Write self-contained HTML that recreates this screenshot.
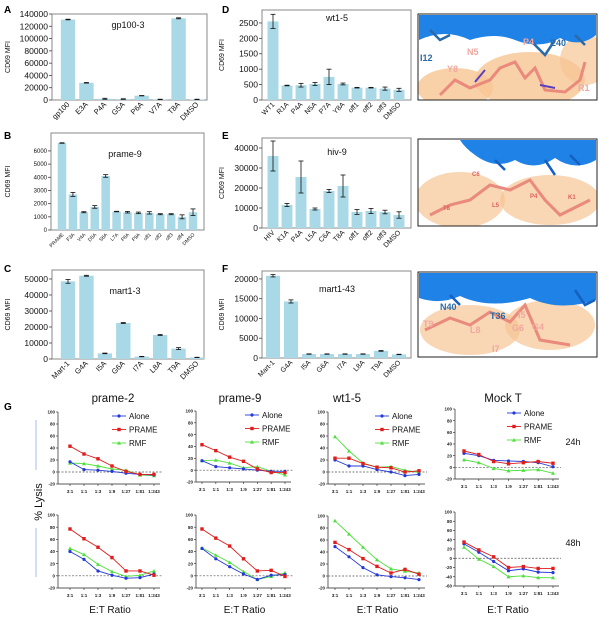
<!DOCTYPE html>
<html><head><meta charset="utf-8"><style>
html,body{margin:0;padding:0;background:#fff}
svg{display:block;font-family:"Liberation Sans",Arial,sans-serif}
</style></head><body>
<svg id="fig" width="600" height="620" viewBox="0 0 600 620" xmlns="http://www.w3.org/2000/svg">
<defs>
  <clipPath id="clipD"><rect x="418" y="14" width="179" height="86"/></clipPath>
  <clipPath id="clipE"><rect x="418" y="139" width="179" height="87"/></clipPath>
  <clipPath id="clipF"><rect x="418" y="272" width="179" height="85"/></clipPath>
</defs>
<g id="bars"></g>
<g id="structs">
  <g>
    <g clip-path="url(#clipD)">
    <rect x="418" y="14" width="179" height="86" fill="#fff"/>
    <ellipse cx="455" cy="88" rx="38" ry="20" fill="#f7c594" opacity="0.8"/>
    <ellipse cx="530" cy="80" rx="55" ry="28" fill="#f7c594" opacity="0.8"/>
    <ellipse cx="585" cy="60" rx="25" ry="25" fill="#f7c594" opacity="0.7"/>
    <path d="M419,15 L596,15 L596,35 Q580,48 560,38 Q540,50 515,40 Q495,32 470,40 Q445,28 419,40 Z" fill="#1f82e6"/>
    <path d="M430,30 L440,40 L450,35 M530,40 L545,55 L555,40 M575,35 L585,45" fill="none" stroke="#2a6aa8" stroke-width="2.5"/>
    <path d="M440,95 L455,80 L470,88 L490,80 L500,68 L515,62 L525,78 L535,68 L545,90 L565,92 L580,80 L585,62" fill="none" stroke="#e98a7c" stroke-width="3"/>
    <path d="M475,82 L485,70 M540,85 L555,88" fill="none" stroke="#5a3fbf" stroke-width="2"/>
    </g>
    <rect x="418" y="14" width="179" height="86" fill="none" stroke="#222" stroke-width="1"/>
    <text x="420" y="61" font-size="9" font-weight="bold" fill="#2a6aa8">I12</text>
    <text x="447" y="72" font-size="9" font-weight="bold" fill="#f0a8a0">Y8</text>
    <text x="467" y="55" font-size="9" font-weight="bold" fill="#f0a8a0">N5</text>
    <text x="523" y="45" font-size="9" font-weight="bold" fill="#f0a8a0">P4</text>
    <text x="550" y="46" font-size="9" font-weight="bold" fill="#2a6aa8">E40</text>
    <text x="578" y="91" font-size="9" font-weight="bold" fill="#f0a8a0">R1</text>
  </g>
  <g>
    <g clip-path="url(#clipE)">
    <rect x="418" y="139" width="179" height="87" fill="#fff"/>
    <ellipse cx="460" cy="200" rx="45" ry="28" fill="#f7c594" opacity="0.7"/>
    <ellipse cx="550" cy="200" rx="50" ry="25" fill="#f7c594" opacity="0.7"/>
    <path d="M460,140 L596,140 L596,160 Q575,172 555,158 Q535,172 515,160 Q495,170 475,155 Q465,148 460,140 Z" fill="#1f82e6"/>
    <path d="M495,160 L505,170 M545,160 L555,175 M570,155 L580,165" fill="none" stroke="#1560c0" stroke-width="2.5"/>
    <path d="M430,215 L450,205 L470,200 L490,185 L510,190 L530,180 L545,200 L560,215 L590,200" fill="none" stroke="#e98a7c" stroke-width="3"/>
    </g>
    <rect x="418" y="139" width="179" height="87" fill="none" stroke="#222" stroke-width="1"/>
    <text x="472" y="176" font-size="6" font-weight="bold" fill="#e0605a">C6</text>
    <text x="443" y="210" font-size="6" font-weight="bold" fill="#e0605a">T8</text>
    <text x="492" y="207" font-size="6" font-weight="bold" fill="#e0605a">L5</text>
    <text x="530" y="198" font-size="6" font-weight="bold" fill="#e0605a">P4</text>
    <text x="568" y="199" font-size="6" font-weight="bold" fill="#e0605a">K1</text>
  </g>
  <g>
    <g clip-path="url(#clipF)">
    <rect x="418" y="272" width="179" height="85" fill="#fff"/>
    <ellipse cx="470" cy="330" rx="50" ry="25" fill="#f7c594" opacity="0.7"/>
    <ellipse cx="550" cy="325" rx="45" ry="25" fill="#f7c594" opacity="0.7"/>
    <path d="M419,273 L596,273 L596,300 Q560,312 530,298 Q490,310 460,296 Q440,305 419,298 Z" fill="#1f82e6"/>
    <path d="M575,290 L585,305 L595,300 M450,295 L460,305" fill="none" stroke="#1560c0" stroke-width="2.5"/>
    <path d="M425,330 L450,318 L470,325 L490,312 L510,322 L525,305 L540,340 L570,345" fill="none" stroke="#e98a7c" stroke-width="3"/>
    </g>
    <rect x="418" y="272" width="179" height="85" fill="none" stroke="#222" stroke-width="1"/>
    <text x="440" y="310" font-size="9" font-weight="bold" fill="#2a6aa8">N40</text>
    <text x="490" y="319" font-size="9" font-weight="bold" fill="#2a6aa8">T36</text>
    <text x="518" y="318" font-size="9" font-weight="bold" fill="#f0a8a0">I5</text>
    <text x="532" y="330" font-size="9" font-weight="bold" fill="#f0a8a0">G4</text>
    <text x="512" y="331" font-size="9" font-weight="bold" fill="#f0a8a0">G6</text>
    <text x="470" y="333" font-size="9" font-weight="bold" fill="#f0a8a0">L8</text>
    <text x="423" y="327" font-size="9" font-weight="bold" fill="#f0a8a0">T9</text>
    <text x="492" y="352" font-size="9" font-weight="bold" fill="#f0a8a0">I7</text>
  </g>
</g>
<g id="lines"></g>
<g font-family="Liberation Sans Narrow,Liberation Sans,sans-serif" font-weight="bold" font-size="10">
  <text x="4" y="13">A</text><text x="4" y="139">B</text><text x="4" y="272">C</text>
  <text x="222" y="13">D</text><text x="222" y="139">E</text><text x="222" y="272">F</text>
  <text x="4" y="410">G</text>
</g>
</svg>
<script>
const NS='http://www.w3.org/2000/svg';
function mk(p,t,a){const e=document.createElementNS(NS,t);for(const k in a)e.setAttribute(k,a[k]);p.appendChild(e);return e;}

const catsA=['gp100','E3A','P4A','G5A','P6A','V7A','T8A','DMSO'];
const valsA=[131000,28000,2000,1500,7000,1000,133000,1000];
const errsA=[500,500,800,500,300,300,800,300];
const ticksA=[0,20000,40000,60000,80000,100000,120000,140000];

const catsB=['PRAME','F3A','V4A','D5A','S6A','L7A','F8A','F9A','off1','off2','off3','off4','DMSO'];
const valsB=[6600,2700,1350,1750,4100,1400,1350,1300,1300,1200,1200,1000,1350];
const errsB=[20,150,40,100,100,20,60,60,90,40,40,150,250];
const ticksB=[0,1000,2000,3000,4000,5000,6000];

const catsC=['Mart-1','G4A','I5A','G6A','I7A','L8A','T9A','DMSO'];
const valsC=[48500,52000,3500,22500,1500,15000,6500,1000];
const errsC=[1200,300,200,300,100,300,600,100];
const ticksC=[0,10000,20000,30000,40000,50000];

const catsD=['WT1','R1A','P4A','N5A','P7A','Y8A','off1','off2','off3','DMSO'];
const valsD=[2550,470,480,520,750,520,400,400,370,330];
const errsD=[230,10,60,50,250,30,10,10,50,50];
const ticksD=[0,500,1000,1500,2000,2500];

const catsE=['HIV','K1A','P4A','L5A','C6A','T8A','off1','off2','off3','DMSO'];
const valsE=[36000,11500,25500,9500,18500,21000,8000,8500,8000,6500];
const errsE=[7500,800,8000,500,800,5500,1200,1300,900,1600];
const ticksE=[0,10000,20000,30000,40000];

const catsF=['Mart-1','G4A','I5A','G6A','I7A','L8A','T9A','DMSO'];
const valsF=[20800,14300,1000,1000,1000,1000,1800,900];
const errsF=[300,400,50,50,50,50,100,50];
const ticksF=[0,5000,10000,15000,20000];

function barChart(c){
  const g=mk(document.getElementById('bars'),'g',{});
  
  
  const y=v=>c.y0-(v/c.ymax)*(c.y0-c.top);
  const n=c.cats.length, sp=(c.xl-c.xf)/(n-1);
  const x=i=>c.xf+i*sp;
  const bw=sp*0.78;
  mk(g,'rect',{x:c.left,y:c.top,width:c.right-c.left,height:c.y0-c.top,fill:'none',stroke:'#8a8a8a','stroke-width':1});
  c.ticks.forEach(t=>{
    mk(g,'line',{x1:c.left-3,x2:c.left,y1:y(t),y2:y(t),stroke:'#444','stroke-width':0.8});
    const tx=mk(g,'text',{x:c.left-4,y:y(t)+c.tf*0.35,'font-size':c.tf,'text-anchor':'end',fill:'#111'});
    tx.textContent=t;
  });
  c.vals.forEach((v,i)=>{
    const r=mk(g,'rect',{x:x(i)-bw/2,y:y(v),width:bw,height:c.y0-y(v),fill:'#a9d8e6'});
    
    
    const e=c.errs[i];
    mk(g,'line',{x1:x(i),x2:x(i),y1:y(v+e),y2:y(v-e),stroke:'#111','stroke-width':0.8});
    mk(g,'line',{x1:x(i)-2.5,x2:x(i)+2.5,y1:y(v+e),y2:y(v+e),stroke:'#111','stroke-width':0.8});
    mk(g,'line',{x1:x(i)-2.5,x2:x(i)+2.5,y1:y(v-e),y2:y(v-e),stroke:'#111','stroke-width':0.8});
    const lx=x(i)+2, ly=c.y0+5;
    const t=mk(g,'text',{x:lx,y:ly,'font-size':c.xf2,'text-anchor':'end',transform:`rotate(-45 ${lx} ${ly})`,fill:'#111'});
    t.textContent=c.cats[i];
  });
  const tt=mk(g,'text',{x:c.tx,y:c.ty,'font-size':9,'text-anchor':'middle',fill:'#111'});
  tt.textContent=c.title;
  const yl=mk(g,'text',{x:c.ylx,y:(c.top+c.y0)/2,'font-size':7,'text-anchor':'middle',transform:`rotate(-90 ${c.ylx} ${(c.top+c.y0)/2})`,fill:'#111'});
  yl.textContent='CD69 MFI';
}
barChart({name:'chart-gp100-3',cats:catsA,vals:valsA,errs:errsA,ticks:ticksA,ymax:140000,top:14,y0:100,left:52,right:207,xf:68,xl:197,tf:8.5,xf2:7.5,title:'gp100-3',tx:128,ty:28,ylx:10});
barChart({name:'chart-prame-9',cats:catsB,vals:valsB,errs:errsB,ticks:ticksB,ymax:7360,top:133,y0:230,left:51,right:204,xf:62,xl:193,tf:6,xf2:5,title:'prame-9',tx:125,ty:157,ylx:10});
barChart({name:'chart-mart1-3',cats:catsC,vals:valsC,errs:errsC,ticks:ticksC,ymax:55600,top:270,y0:359,left:52,right:204,xf:68,xl:197,tf:8.5,xf2:7.5,title:'mart1-3',tx:125,ty:294,ylx:10});
barChart({name:'chart-wt1-5',cats:catsD,vals:valsD,errs:errsD,ticks:ticksD,ymax:2920,top:10,y0:100,left:262,right:411,xf:273,xl:399,tf:8.5,xf2:7,title:'wt1-5',tx:337,ty:21,ylx:224});
barChart({name:'chart-hiv-9',cats:catsE,vals:valsE,errs:errsE,ticks:ticksE,ymax:45000,top:138,y0:228,left:262,right:411,xf:273,xl:399,tf:8.5,xf2:7,title:'hiv-9',tx:337,ty:155,ylx:224});
barChart({name:'chart-mart1-43',cats:catsF,vals:valsF,errs:errsF,ticks:ticksF,ymax:22000,top:271,y0:358,left:262,right:411,xf:273,xl:399,tf:8.5,xf2:7,title:'mart1-43',tx:337,ty:292,ylx:224});

const ratios=['3:1','1:1','1:3','1:9','1:27','1:81','1:243'];
const p2_24_alone=[17,4,3,1,-2,-4,-5], p2_24_prame=[43,30,22,10,1,-4,-4], p2_24_rmf=[15,14,10,5,3,-5,-6];
const p9_24_alone=[16,6,4,2,0,-2,-2], p9_24_prame=[43,33,22,15,2,-4,-4], p9_24_rmf=[16,17,12,4,6,-2,-8];
const w5_24_alone=[20,10,10,4,0,-6,-4], w5_24_prame=[23,23,14,8,7,0,2], w5_24_rmf=[59,35,15,8,9,3,-1];
const mk_24_alone=[24,20,12,11,10,8,1], mk_24_prame=[28,22,10,6,8,10,7], mk_24_rmf=[13,8,-2,-6,-5,-4,-10];
const p2_48_alone=[40,27,8,1,-4,-3,3], p2_48_prame=[77,61,47,30,8,8,1], p2_48_rmf=[45,35,19,7,-1,1,8];
const p9_48_alone=[45,28,15,3,-6,1,2], p9_48_prame=[77,62,49,28,8,9,-1], p9_48_rmf=[46,34,22,7,-6,-1,5];
const w5_48_alone=[49,32,14,2,-1,-3,-6], w5_48_prame=[56,44,29,16,5,11,3], w5_48_rmf=[92,70,48,27,12,8,5];
const mk_48_alone=[31,13,-7,-27,-23,-30,-31], mk_48_prame=[35,18,3,-20,-18,-22,-22], mk_48_rmf=[24,-2,-18,-40,-38,-42,-42];
const ticksLys=[-20,0,20,40,60,80,100];
const ticksMock48=[-60,-40,-20,0,20,40,60,80,100];
const COLS={alone:'#2438d8',prame:'#e01c1c',rmf:'#4ee03a'};

function marker(g,kind,cx,cy){
  if(kind==='alone')mk(g,'circle',{cx,cy,r:1.6,fill:COLS.alone});
  else if(kind==='prame')mk(g,'rect',{x:cx-1.7,y:cy-1.7,width:3.4,height:3.4,fill:COLS.prame});
  else mk(g,'path',{d:`M${cx},${cy-2} L${cx+2},${cy+1.6} L${cx-2},${cy+1.6} Z`,fill:COLS.rmf});
}
function lineChart(c){
  const g=mk(document.getElementById('lines'),'g',{});
  
  
  const ymin=c.ticks[0], ymax=c.ticks[c.ticks.length-1];
  const y=v=>c.yb-(v-ymin)/(ymax-ymin)*(c.yb-c.yt);
  const x=i=>c.xf+i*(c.xl-c.xf)/(ratios.length-1);
  mk(g,'line',{x1:c.ax,x2:c.ax,y1:c.yt,y2:c.yb,stroke:'#222','stroke-width':0.7});
  mk(g,'line',{x1:c.ax,x2:c.xl+6,y1:c.yb,y2:c.yb,stroke:'#222','stroke-width':0.7});
  c.ticks.forEach(t=>{
    mk(g,'line',{x1:c.ax-2,x2:c.ax,y1:y(t),y2:y(t),stroke:'#222','stroke-width':0.6});
    const tx=mk(g,'text',{x:c.ax-3,y:y(t)+1.6,'font-size':4.5,'text-anchor':'end','font-weight':'bold',fill:'#222'});
    tx.textContent=t;
  });
  mk(g,'line',{x1:c.ax,x2:c.xl+8,y1:y(0),y2:y(0),stroke:'#555','stroke-width':0.7,'stroke-dasharray':'2,1.5'});
  ratios.forEach((r,i)=>{
    mk(g,'line',{x1:x(i),x2:x(i),y1:c.yb,y2:c.yb+2,stroke:'#222','stroke-width':0.6});
    const t=mk(g,'text',{x:x(i),y:c.yb+9,'font-size':4.5,'text-anchor':'middle','font-weight':'bold',fill:'#222'});
    t.textContent=r;
  });
  [['rmf',c.rmf],['alone',c.alone],['prame',c.prame]].forEach(([k,vals])=>{
    const pl=mk(g,'polyline',{points:vals.map((v,i)=>x(i)+','+y(v)).join(' '),fill:'none',stroke:COLS[k],'stroke-width':0.9});
    
    
    vals.forEach((v,i)=>marker(g,k,x(i),y(v)));
  });
  if(c.title){const t=mk(g,'text',{x:c.tx,y:402,'font-size':11.5,'text-anchor':'middle',fill:'#111'});t.textContent=c.title;}
  if(c.legend){
    [['alone','Alone',0],['prame','PRAME',13.5],['rmf','RMF',27]].forEach(([k,l,dy])=>{
      const ly=c.yt+4+dy;
      const lg=mk(g,'g',{});
      
      
      mk(lg,'line',{x1:c.lx,x2:c.lx+14,y1:ly,y2:ly,stroke:COLS[k],'stroke-width':0.9});
      marker(lg,k,c.lx+7,ly);
      const t=mk(lg,'text',{x:c.lx+17,y:ly+3,'font-size':8,fill:'#111'});t.textContent=l;
    });
  }
  if(c.xlabel){const t=mk(g,'text',{x:(c.ax+c.xl)/2+4,y:613,'font-size':10,'text-anchor':'middle',fill:'#111'});t.textContent='E:T Ratio';}
}
lineChart({name:'lysis-prame-2-24h',ax:58,xf:70,xl:154,yt:412,yb:484,ticks:ticksLys,alone:p2_24_alone,prame:p2_24_prame,rmf:p2_24_rmf,title:'prame-2',tx:113,legend:true,lx:112});
lineChart({name:'lysis-prame-9-24h',ax:196,xf:202,xl:285,yt:411,yb:482,ticks:ticksLys,alone:p9_24_alone,prame:p9_24_prame,rmf:p9_24_rmf,title:'prame-9',tx:240,legend:true,lx:245});
lineChart({name:'lysis-wt1-5-24h',ax:328,xf:335,xl:419,yt:412,yb:484,ticks:ticksLys,alone:w5_24_alone,prame:w5_24_prame,rmf:w5_24_rmf,title:'wt1-5',tx:347,legend:true,lx:375});
lineChart({name:'lysis-mock-24h',ax:455,xf:464,xl:553,yt:409,yb:479,ticks:ticksLys,alone:mk_24_alone,prame:mk_24_prame,rmf:mk_24_rmf,title:'Mock T',tx:503,legend:true,lx:507});
lineChart({name:'lysis-prame-2-48h',ax:58,xf:70,xl:154,yt:515,yb:588,ticks:ticksLys,alone:p2_48_alone,prame:p2_48_prame,rmf:p2_48_rmf,xlabel:true});
lineChart({name:'lysis-prame-9-48h',ax:196,xf:202,xl:285,yt:515,yb:588,ticks:ticksLys,alone:p9_48_alone,prame:p9_48_prame,rmf:p9_48_rmf,xlabel:true});
lineChart({name:'lysis-wt1-5-48h',ax:328,xf:335,xl:419,yt:516,yb:588,ticks:ticksLys,alone:w5_48_alone,prame:w5_48_prame,rmf:w5_48_rmf,xlabel:true});
lineChart({name:'lysis-mock-48h',ax:455,xf:464,xl:553,yt:512,yb:586,ticks:ticksMock48,alone:mk_48_alone,prame:mk_48_prame,rmf:mk_48_rmf,xlabel:true});

const L=document.getElementById('lines');
const extra=mk(L,'g',{});


mk(extra,'line',{x1:36,x2:36,y1:420,y2:470,stroke:'#a9b8ee','stroke-width':1});
mk(extra,'line',{x1:36,x2:36,y1:528,y2:577,stroke:'#a9b8ee','stroke-width':1});
const yl=mk(extra,'text',{x:42,y:502,'font-size':11,'text-anchor':'middle',transform:'rotate(-90 42 502)',fill:'#111'});yl.textContent='% Lysis';
const h24=mk(extra,'text',{x:573,y:445,'font-size':9,'text-anchor':'middle',fill:'#111'});h24.textContent='24h';
const h48=mk(extra,'text',{x:573,y:546,'font-size':9,'text-anchor':'middle',fill:'#111'});h48.textContent='48h';
</script>
</body></html>
